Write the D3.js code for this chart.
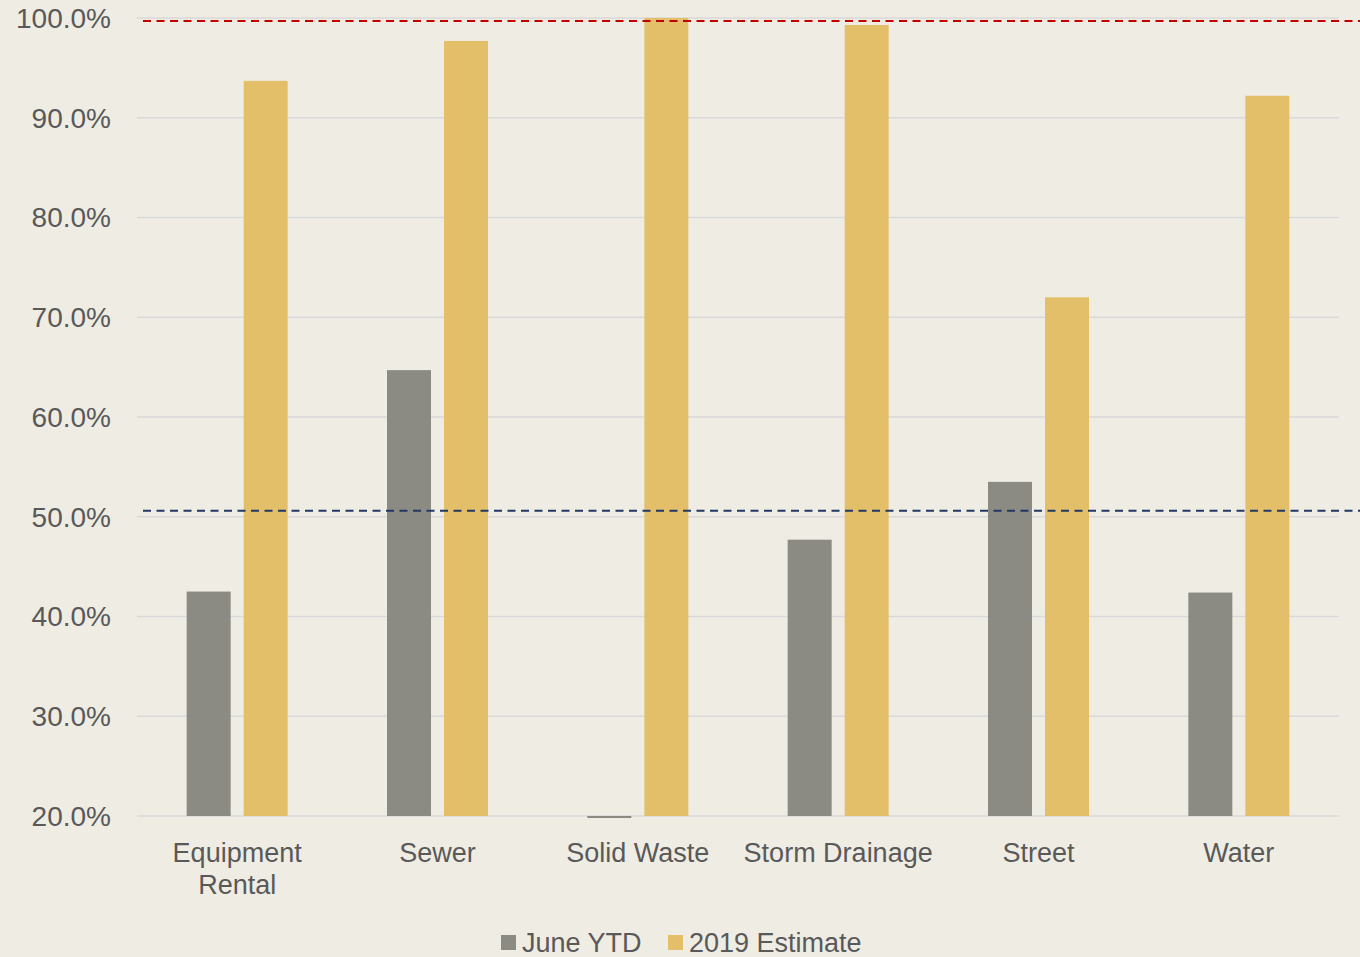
<!DOCTYPE html>
<html>
<head>
<meta charset="utf-8">
<script src="https://cdn.jsdelivr.net/npm/d3@7"></script>
<style>
  body { margin: 0; background: #EFECE4; }
  text { font-family: "Liberation Sans", Arial, sans-serif; fill: #595959; }
</style>
</head>
<body>
<svg id="chart" width="1360" height="957"></svg>
<script>
// chart data
const categories = ["Equipment Rental", "Sewer", "Solid Waste", "Storm Drainage", "Street", "Water"];
const juneYTD = [42.5, 64.7, 19.8, 47.7, 53.5, 42.4];
const estimate2019 = [93.7, 97.7, 100.0, 99.3, 72.0, 92.2];
const seriesNames = ["June YTD", "2019 Estimate"];
const yTicks = [20, 30, 40, 50, 60, 70, 80, 90, 100];
const targetLine = 99.7;   // red dashed
const ytdLine = 50.6;      // blue dashed

const colors = ["#8B8B84", "#E4BF6A"];

const svg = d3.select("#chart");
const width = 1360, height = 957;
const margin = {left: 137, right: 21, top: 18, bottom: 141};

let y = d3.scaleLinear()
    .domain([20, 100])
    .range([height - margin.bottom, margin.top]);

let x = d3.scaleBand()
    .domain(categories)
    .range([margin.left, width - margin.right]);

let barW = 44;
let offsets = [-28.5, 28.5];

svg.append("rect")
    .attr("width", width)
    .attr("height", height)
    .attr("fill", "#EFECE4");

//gridlines
svg.append("g")
    .selectAll("line")
    .data(yTicks)
    .enter()
    .append("line")
    .attr("x1", margin.left)
    .attr("x2", width - margin.right)
    .attr("y1", d => y(d))
    .attr("y2", d => y(d))
    .attr("stroke", "#D9D9D9")
    .attr("stroke-width", 1.5);

//y labels
svg.append("g")
    .selectAll("text")
    .data(yTicks)
    .enter()
    .append("text")
    .attr("x", 111)
    .attr("y", d => y(d))
    .attr("dy", "0.35em")
    .attr("text-anchor", "end")
    .style("font-size", "28px")
    .text(d => d.toFixed(1) + "%");

//bars
let series = [juneYTD, estimate2019];
series.forEach(function (vals, s) {
    svg.append("g")
        .selectAll("rect")
        .data(vals)
        .enter()
        .append("rect")
        .attr("x", (d, i) => x(categories[i]) + x.bandwidth() / 2 + offsets[s] - barW / 2)
        .attr("width", barW)
        .attr("y", d => d >= 20 ? y(d) : y(20))
        .attr("height", d => d >= 20 ? y(20) - y(d) : Math.max(1.5, y(d) - y(20)))
        .attr("fill", colors[s]);
});

//category labels
let labels = svg.append("g")
    .selectAll("text")
    .data(categories)
    .enter()
    .append("text")
    .attr("x", d => x(d) + x.bandwidth() / 2)
    .attr("y", 862)
    .attr("text-anchor", "middle")
    .style("font-size", "27px");

labels.each(function (d) {
    let t = d3.select(this);
    let lines = d === "Equipment Rental" ? ["Equipment", "Rental"] : [d];
    lines.forEach(function (l, i) {
        t.append("tspan")
            .attr("x", x(d) + x.bandwidth() / 2)
            .attr("dy", i === 0 ? 0 : 32)
            .text(l);
    });
});

//dashed reference lines
svg.append("line")
    .attr("x1", 143).attr("x2", width)
    .attr("y1", y(targetLine)).attr("y2", y(targetLine))
    .attr("stroke", "#C00000")
    .attr("stroke-width", 2)
    .attr("stroke-dasharray", "8,5.5");

svg.append("line")
    .attr("x1", 143).attr("x2", width)
    .attr("y1", y(ytdLine)).attr("y2", y(ytdLine))
    .attr("stroke", "#1F3864")
    .attr("stroke-width", 2)
    .attr("stroke-dasharray", "8,5.5");

//legend
let legendX = [501, 668];
let legend = svg.append("g")
    .selectAll("g")
    .data(seriesNames)
    .enter()
    .append("g")
    .attr("transform", (d, i) => "translate(" + legendX[i] + ",0)");

legend.append("rect")
    .attr("x", 0)
    .attr("y", 935)
    .attr("width", 15)
    .attr("height", 15)
    .attr("fill", (d, i) => colors[i]);

legend.append("text")
    .attr("x", 21)
    .attr("y", 952)
    .style("font-size", "27px")
    .text(d => d);
</script>
</body>
</html>
